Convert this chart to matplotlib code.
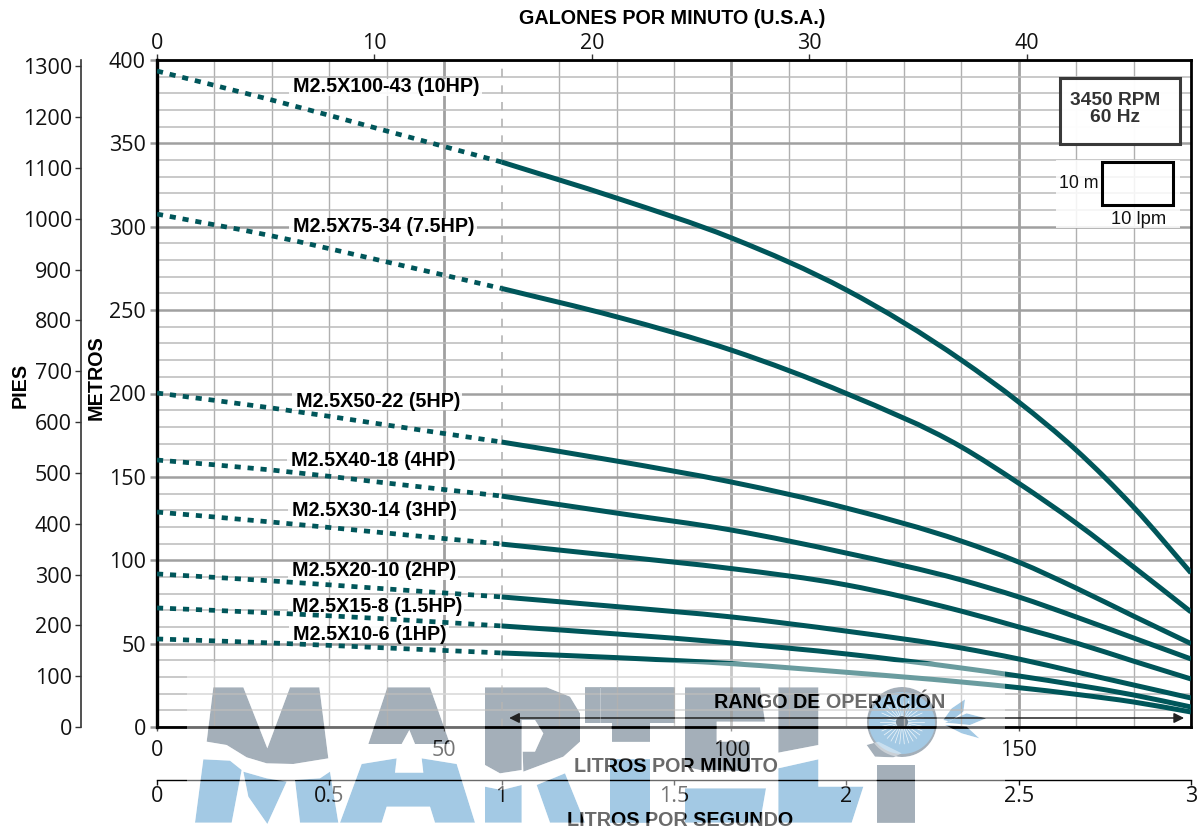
import numpy as np
import matplotlib
matplotlib.use("Agg")
import matplotlib.pyplot as plt
from matplotlib.path import Path
from matplotlib.patches import PathPatch, Rectangle
from matplotlib.transforms import Affine2D, IdentityTransform
from matplotlib.ticker import FixedLocator

# ---------- data ----------
flow_lpm = [0, 20, 40, 60, 80, 100, 120, 140, 150, 160, 170, 180]
head_10hp = [393.4, 376.0, 357.4, 338.8, 317.2, 293.3, 262.1, 220.1, 194.9, 166.1, 131.9, 92.4]
head_75hp = [307.6, 294.5, 278.9, 263.0, 246.0, 226.0, 200.0, 168.0, 146.2, 122.3, 96.0, 69.0]
head_5hp = [200.3, 191.3, 181.1, 170.9, 159.5, 146.9, 131.3, 111.5, 98.9, 83.3, 66.5, 50.0]
head_4hp = [160.1, 154.1, 146.3, 138.5, 128.3, 118.1, 104.3, 88.2, 78.0, 66.0, 53.4, 40.8]
head_3hp = [128.9, 122.9, 116.3, 109.7, 102.5, 95.0, 85.2, 69.5, 60.0, 50.4, 39.5, 28.8]
head_2hp = [91.8, 87.6, 82.8, 78.0, 72.2, 66.0, 57.5, 47.4, 40.8, 33.0, 25.2, 17.4]
head_15hp = [71.4, 68.4, 64.8, 60.6, 55.8, 50.4, 43.8, 35.4, 30.6, 25.2, 19.2, 12.0]
head_1hp = [52.8, 50.4, 47.4, 44.4, 41.6, 38.0, 32.8, 27.0, 23.6, 19.6, 15.0, 9.0]
all_heads = [head_10hp, head_75hp, head_5hp, head_4hp, head_3hp, head_2hp, head_15hp, head_1hp]
curve_labels = ["M2.5X100-43 (10HP)", "M2.5X75-34 (7.5HP)", "M2.5X50-22 (5HP)", "M2.5X40-18 (4HP)",
                "M2.5X30-14 (3HP)", "M2.5X20-10 (2HP)", "M2.5X15-8 (1.5HP)", "M2.5X10-6 (1HP)"]
label_px = [(293, 87), (293, 227), (296, 402), (291, 460), (292, 510), (292, 571), (292, 606), (293, 634)]
lpm_ticks = [0, 50, 100, 150]
gpm_ticks = [0, 10, 20, 30, 40]
lps_ticks = [0, 0.5, 1, 1.5, 2, 2.5, 3]
lps_labels = ["0", "0.5", "1", "1.5", "2", "2.5", "3"]
metres_ticks = [0, 50, 100, 150, 200, 250, 300, 350, 400]
feet_ticks = list(range(0, 1301, 100))

W, H = 1199, 832
L, R, T, B = 157, 1191, 60, 727
TEAL = "#00565a"
NUM = "Open Sans"
BOLD = "Liberation Sans"
TS = 14.2

fig = plt.figure(figsize=(W / 100, H / 100), dpi=100, facecolor="white")
ax = fig.add_axes([L / W, 1 - B / H, (R - L) / W, (B - T) / H])
ax.patch.set_alpha(0)
ax.set_xlim(0, 180)
ax.set_ylim(0, 400)
PIX = Affine2D().scale(1, -1).translate(0, H)


def ftext(x, y, s, **kw):
    return fig.text(x / W, 1 - y / H, s, va=kw.pop("va", "center"), ha=kw.pop("ha", "center"), **kw)


def smooth(x, y):
    x, y = np.asarray(x, float), np.asarray(y, float)
    m = np.gradient(y, x)
    verts, codes = [(x[0], y[0])], [Path.MOVETO]
    for i in range(len(x) - 1):
        d = (x[i + 1] - x[i]) / 3
        verts += [(x[i] + d, y[i] + m[i] * d), (x[i + 1] - d, y[i + 1] - m[i + 1] * d), (x[i + 1], y[i + 1])]
        codes += [Path.CURVE4] * 3
    return Path(verts, codes)


# ---------- grid ----------
ax.xaxis.set_major_locator(FixedLocator(lpm_ticks))
ax.xaxis.set_minor_locator(FixedLocator([v for v in range(10, 180, 10) if v % 50 and v != 60]))
ax.yaxis.set_major_locator(FixedLocator(metres_ticks))
ax.yaxis.set_minor_locator(FixedLocator([v for v in range(10, 400, 10) if v % 50]))
ax.grid(True, which="major", axis="x", color="#a0a0a0", lw=2.0)
ax.grid(True, which="minor", axis="x", color="#b0b0b0", lw=1.0)
ax.grid(True, which="major", axis="y", color="#a0a0a0", lw=1.8)
ax.grid(True, which="minor", axis="y", color="#bbbbbb", lw=1.1)
ax.set_axisbelow(True)
ax.axvline(60, color="#b4b4b4", lw=1.2, ls=(0, (5, 5)), zorder=1)
ax.tick_params(which="minor", length=0)
ax.tick_params(axis="x", which="major", length=3, width=1, color="#555555", pad=6,
               labelsize=15.5, labelfontfamily=NUM, labelcolor="#111111")
ax.tick_params(axis="y", which="major", length=5, width=1.8, color="#999999", pad=3,
               labelsize=15.5, labelfontfamily=NUM, labelcolor="#111111")
for s in ax.spines.values():
    s.set_color("black")
    s.set_linewidth(2)
ax.spines["left"].set_linewidth(2.4)

# ---------- secondary axes ----------
top = ax.secondary_xaxis("top", functions=(lambda v: v / 3.785, lambda v: v * 3.785))
top.xaxis.set_major_locator(FixedLocator(gpm_ticks))
top.tick_params(length=4, width=1, color="#333333", pad=0, labelsize=15.5, labelfontfamily=NUM, labelcolor="#111111")
top.spines["top"].set_visible(False)

lps = ax.secondary_xaxis((B - 780) / (B - T), functions=(lambda v: v / 60, lambda v: v * 60))
lps.xaxis.set_major_locator(FixedLocator(lps_ticks))
lps.set_xticklabels(lps_labels)
lps.tick_params(length=3.5, width=1, color="#111111", pad=1, labelsize=15.5, labelfontfamily=NUM, labelcolor="#111111")
lps.spines["bottom"].set_linewidth(1)

ft = ax.secondary_yaxis((81 - L) / (R - L), functions=(lambda v: v * 3.28084, lambda v: v / 3.28084))
ft.yaxis.set_major_locator(FixedLocator(feet_ticks))
ft.tick_params(length=4.5, width=1, color="#333333", pad=2, labelsize=15.5, labelfontfamily=NUM, labelcolor="#111111")
ft.spines["left"].set_linewidth(1.2)
ft.spines["left"].set_color("#333333")

# ---------- curves ----------
fl = np.array(flow_lpm)
solid = fl >= 60
dashed = fl <= 60
for h in all_heads:
    h = np.array(h)
    ax.add_patch(PathPatch(smooth(fl[dashed], h[dashed]), fc="none", ec=TEAL, lw=3.4, ls=(0, (1.3, 1.45)),
                           capstyle="butt", zorder=3))
    ax.add_patch(PathPatch(smooth(fl[solid], h[solid]), fc="none", ec=TEAL, lw=3.6, capstyle="butt", zorder=3))

# ---------- curve labels ----------
fig.canvas.draw()
rend = fig.canvas.get_renderer()
for s, (x, y) in zip(curve_labels, label_px):
    t = ftext(x, y, s, ha="left", family=BOLD, weight="bold", fontsize=14.2, color="black")
    e = t.get_window_extent(rend)
    ax.add_patch(Rectangle((e.x0 - 4, e.y0 + 1), e.width + 6, e.height - 2, transform=IdentityTransform(),
                           fc="white", ec="none", alpha=0.9, zorder=2, clip_on=False))

# ---------- speed box and scale box ----------
ax.add_patch(Rectangle((1056, 832 - 228), 124, 68, transform=IdentityTransform(), fc="white", ec="none",
                       alpha=0.85, zorder=2))
ax.add_patch(Rectangle((1060, 832 - 144), 120, 66, transform=IdentityTransform(), fc="white", ec="#333333",
                       lw=2.2, alpha=0.97, zorder=2.5))
ax.add_patch(Rectangle((1102, 832 - 205), 71, 43, transform=IdentityTransform(), fc="none", ec="black",
                       lw=2.2, zorder=2.5))
ftext(1115, 109, "3450 RPM\n60 Hz", family="Liberation Sans", weight="bold", fontsize=13.8, color="#333333",
      linespacing=1.0)
ftext(1079, 184, "10 m", family=BOLD, fontsize=12.8, color="#111111")
ftext(1139, 219, "10 lpm", family=BOLD, fontsize=13.2, color="#111111")

# ---------- axis titles ----------
ftext(672, 19, "GALONES POR MINUTO (U.S.A.)", family=BOLD, weight="bold", fontsize=TS)
ftext(676, 767, "LITROS POR MINUTO", family=BOLD, weight="bold", fontsize=TS)
ftext(680, 820, "LITROS POR SEGUNDO", family=BOLD, weight="bold", fontsize=TS)
ftext(20, 385, "PIES", family=BOLD, weight="bold", fontsize=TS, rotation=90)
ftext(96, 378, "METROS", family=BOLD, weight="bold", fontsize=TS, rotation=90)
ftext(830, 702, "RANGO DE OPERACIÓN", family=BOLD, weight="bold", fontsize=TS)
ax.annotate("", xy=(178.8, 5.4), xytext=(61.3, 5.4),
            arrowprops=dict(arrowstyle="<|-|>", color="#222222", lw=1.1, shrinkA=0, shrinkB=0, mutation_scale=15),
            zorder=4)


# ---------- watermark logo (decoration, drawn behind the chart) ----------
def z5(pts):
    return [(180 + a / 3, 670 + b / 3) for a, b in pts]


def z6(pts):
    return [(600 + a / 3, 670 + b / 3) for a, b in pts]


GREY = "#a4afb9"
BLUE = "#a3c9e4"
logo = [
    (GREY, z5([(100, 52), (190, 52), (262, 235), (330, 52), (418, 52), (445, 265), (340, 282), (260, 280), (200, 262),
               (140, 225), (80, 215)])),
    (GREY, z5([(622, 52), (750, 52), (810, 222), (705, 222), (688, 180), (665, 222), (565, 222)])),
    (GREY, z5([(915, 52), (1100, 52), (1170, 80), (1200, 130), (1200, 215), (1150, 260), (1030, 305), (1028, 245),
               (1065, 245), (1090, 190), (1065, 150), (1025, 150), (1025, 300), (960, 310), (915, 285)])),
    (GREY, z5([(1215, 52), (1262, 52), (1262, 160), (1215, 160)])),
    (GREY, z6([(0, 52), (225, 52), (225, 160), (150, 160), (150, 215), (35, 215), (35, 160), (0, 160)])),
    (GREY, z6([(255, 52), (480, 52), (495, 155), (350, 155), (350, 215), (450, 215), (450, 305), (360, 300),
               (300, 300), (255, 290)])),
    (GREY, z6([(535, 52), (655, 52), (655, 225), (535, 248)])),
    (GREY, z6([(830, 285), (945, 285), (945, 458), (830, 458)])),
    (BLUE, z5([(70, 268), (150, 272), (185, 300), (155, 458), (45, 458)])),
    (BLUE, z5([(190, 305), (260, 325), (320, 335), (262, 462), (205, 380)])),
    (BLUE, z5([(345, 330), (420, 325), (450, 305), (475, 458), (360, 458)])),
    (BLUE, z5([(545, 282), (650, 265), (645, 308), (730, 308), (725, 265), (830, 282), (885, 458), (765, 458),
               (750, 410), (620, 410), (605, 458), (480, 458)])),
    (BLUE, z5([(915, 350), (965, 360), (1025, 345), (1025, 458), (915, 458)])),
    (BLUE, z5([(1070, 345), (1155, 310), (1215, 458), (1110, 458)])),
    (BLUE, z6([(30, 268), (150, 268), (150, 458), (30, 458)])),
    (BLUE, z6([(255, 355), (498, 355), (480, 458), (255, 458)])),
    (BLUE, z6([(535, 295), (655, 268), (655, 350), (790, 350), (755, 458), (535, 458)])),
    (BLUE, z6([(1030, 150), (1055, 115), (1095, 88), (1090, 125), (1050, 155)])),
    (BLUE, z6([(1035, 158), (1100, 130), (1158, 145), (1110, 165)])),
    (BLUE, z6([(1035, 165), (1100, 170), (1138, 205), (1085, 190)])),
    (GREY, z6([(800, 225), (835, 215), (905, 250), (880, 262), (825, 260)])),
]
ang = np.linspace(0, 2 * np.pi, 60, endpoint=False)
cx, cy = 902, 722
ring = [(cx + 35 * np.cos(a), cy + 35 * np.sin(a)) for a in ang]
disc = [(cx + 33 * np.cos(a), cy + 1 + 31 * np.sin(a)) for a in ang]
logo_extra = [(GREY, ring), (BLUE, disc)]


def ccw_area(p):
    a = np.array(p)
    return 0.5 * np.sum(a[:, 0] * np.roll(a[:, 1], -1) - np.roll(a[:, 0], -1) * a[:, 1])


for c, pts in logo + logo_extra:
    fig.add_artist(PathPatch(Path(np.array(pts + [pts[0]]), closed=True), transform=PIX, fc=c, ec="none", zorder=-2))
for a in ang[::2]:
    fig.add_artist(plt.Line2D([cx + 6 * np.cos(a), cx + 22 * np.cos(a)], [H - cy - 6 * np.sin(a), H - cy - 22 * np.sin(a)],
                              transform=IdentityTransform(), color="white", lw=0.5, alpha=0.85, zorder=-1))
fig.add_artist(PathPatch(Path.circle((cx, H - cy), 6), transform=IdentityTransform(), fc="#74818c", ec="none", zorder=-1))

# Wash over the chart outside the logo shapes: a rectangle with the logo shapes cut out.
rect = [(187, 662), (1005, 662), (1005, 832), (187, 832)]
sign = np.sign(ccw_area(rect))
paths = [Path(np.array(rect + [rect[0]]), closed=True)]
for c, pts in logo + [(GREY, ring)]:
    p = pts if np.sign(ccw_area(pts)) != sign else pts[::-1]
    paths.append(Path(np.array(p + [p[0]]), closed=True))
fig.add_artist(PathPatch(Path.make_compound_path(*paths), transform=PIX, fc="white", ec="none", alpha=0.42, zorder=10))

fig.savefig("out.png", dpi=100)
